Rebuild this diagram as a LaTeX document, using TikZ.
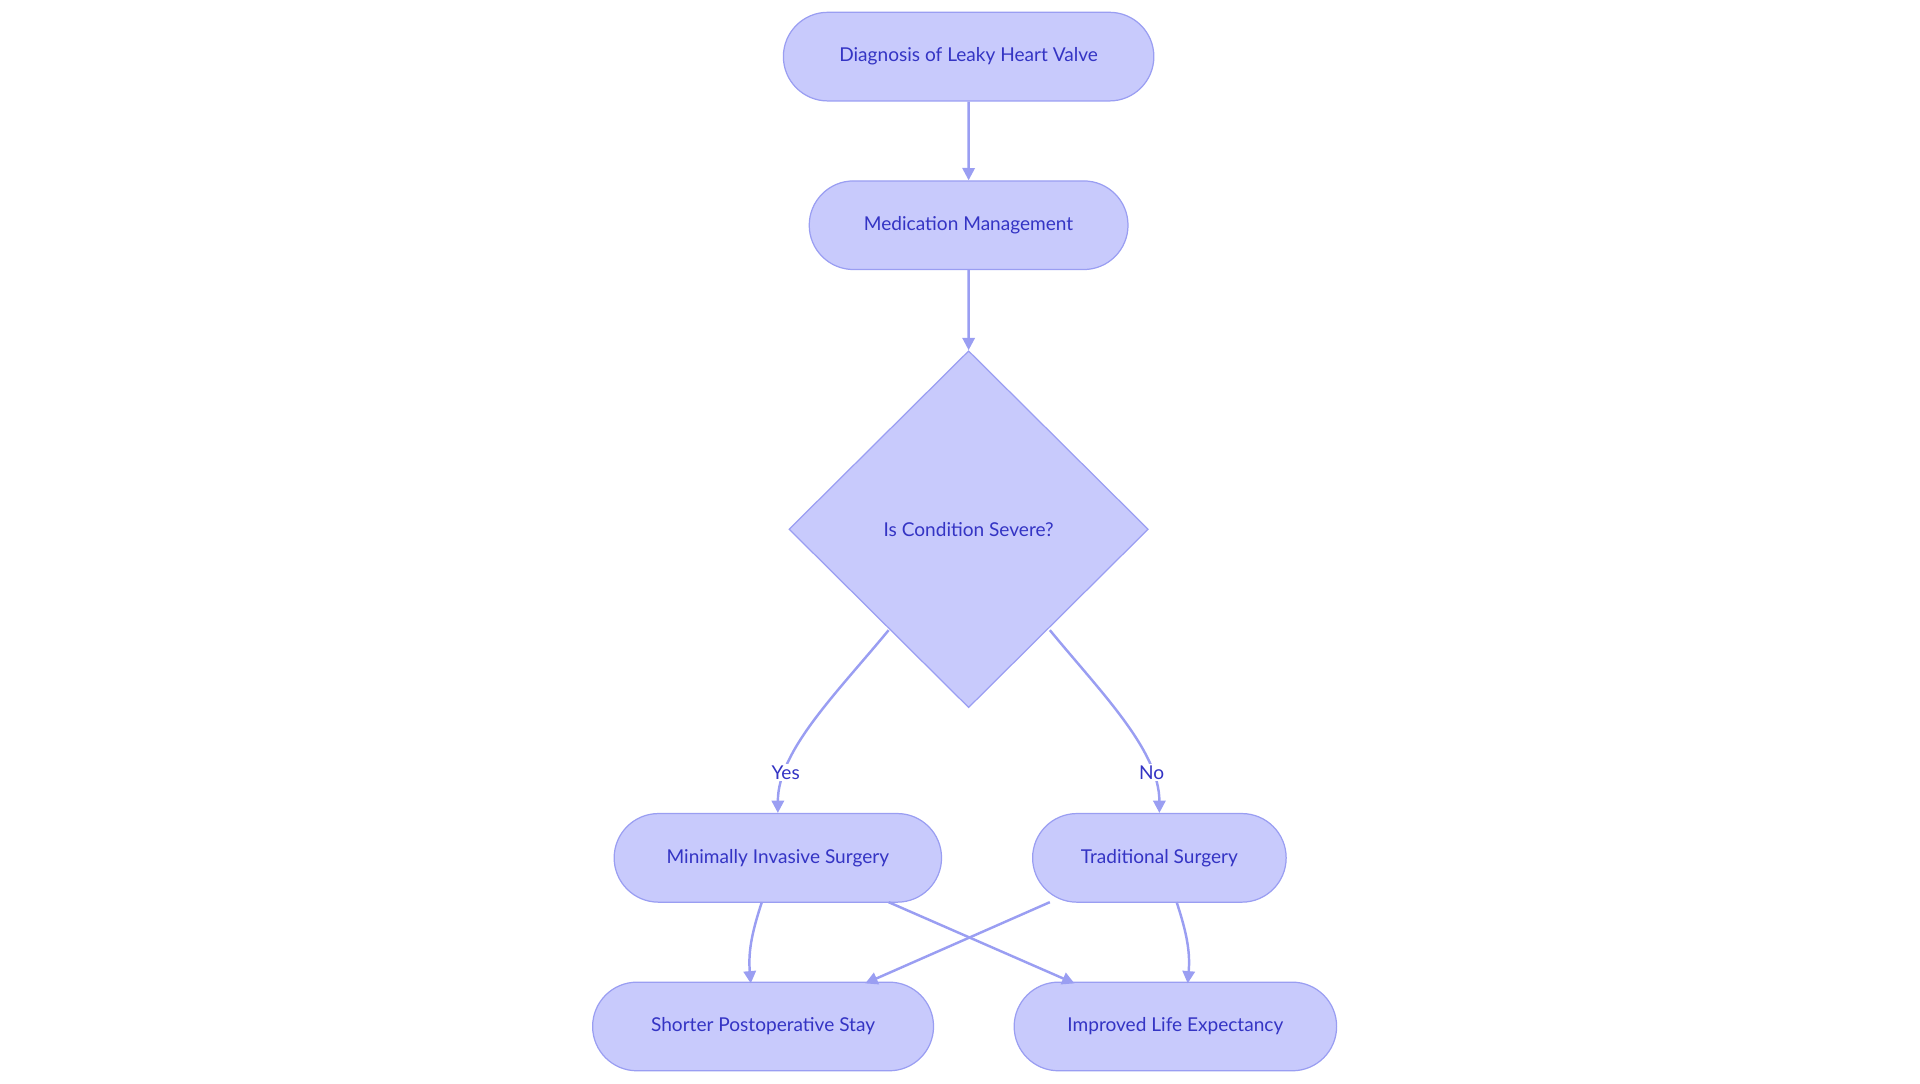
\documentclass[tikz,border=0pt]{standalone}
\usepackage{fontspec}
\setmainfont{Lato}
\usetikzlibrary{shapes.geometric,shapes.misc,arrows.meta}
\definecolor{nfill}{HTML}{C8CAFC}
\definecolor{nline}{HTML}{9A9EF2}
\definecolor{ntext}{HTML}{3434C4}
\begin{document}
\begin{tikzpicture}[x=1pt,y=-1pt,
 box/.style={rounded rectangle,draw=nline,fill=nfill,line width=1pt,text=ntext,minimum height=72pt,inner xsep=0pt,font=\fontsize{15.5}{18}\selectfont},
 dia/.style={diamond,draw=nline,fill=nfill,line width=1pt,text=ntext,minimum width=292pt,minimum height=290pt,inner sep=0pt,font=\fontsize{15.5}{18}\selectfont},
 edge/.style={draw=nline,line width=2pt,-{Triangle[length=10pt,width=10pt]}},
 lab/.style={fill=white,text=ntext,inner sep=1pt,font=\fontsize{15.5}{18}\selectfont}]
\useasboundingbox (0,0) rectangle (1560,880);
\node[box,minimum width=301pt] (a) at (787,46) {Diagnosis of Leaky Heart Valve};
\node[box,minimum width=259pt] (b) at (787,183) {Medication Management};
\node[dia] (c) at (787,430) {Is Condition Severe?};
\node[box,minimum width=266pt] (d) at (632,697) {Minimally Invasive Surgery};
\node[box,minimum width=206pt] (e) at (942,697) {Traditional Surgery};
\node[box,minimum width=277pt] (f) at (620,834) {Shorter Postoperative Stay};
\node[box,minimum width=262pt] (g) at (955,834) {Improved Life Expectancy};
\coordinate (c1) at (722,512);
\coordinate (c2) at (853,512);
\coordinate (d1) at (619,733);
\coordinate (d2) at (722,733);
\coordinate (e1) at (853,733);
\coordinate (e2) at (956,733);
\coordinate (f1) at (610,799);
\coordinate (f2) at (703,799);
\coordinate (g1) at (873,799);
\coordinate (g2) at (965,799);
\draw[edge] (a) -- (b);
\draw[edge] (b) -- (c.north);
\draw[edge] (c1) .. controls (680,563) and (632,610) .. (d.north) node[lab,pos=0.78] {Yes};
\draw[edge] (c2) .. controls (895,563) and (942,610) .. (e.north) node[lab,pos=0.78] {No};
\draw[edge] (d1) .. controls (610,760) and (608,775) .. (f1);
\draw[edge] (d2) -- (g1);
\draw[edge] (e1) -- (f2);
\draw[edge] (e2) .. controls (965,760) and (967,775) .. (g2);
\end{tikzpicture}
\end{document}
